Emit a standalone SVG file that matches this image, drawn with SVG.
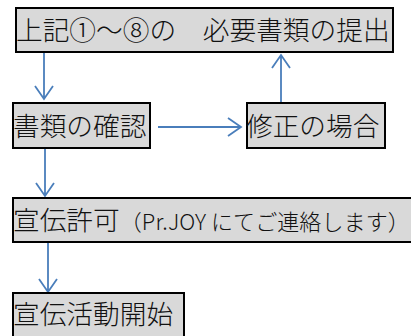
<svg xmlns="http://www.w3.org/2000/svg" width="411" height="336" viewBox="0 0 411 336">
<style>
.box{fill:#d9d9d9;stroke:#000;stroke-width:2}
.t{font-family:"Noto Sans CJK JP","Noto Sans",sans-serif;font-size:26.7px;font-weight:300;fill:#111}
.s{font-size:22px}
.c{stroke:#4a7ebb;stroke-width:1.8;fill:none}
</style>
<rect width="411" height="336" fill="#fff"/>
<g id="connectors">
<path class="c" d="M44,53 V99 M35,86 L44,99 L53,86"/>
<path class="c" d="M281,102 V55 M272,68 L281,55 L290,68"/>
<path class="c" d="M158,127 H241 M228,118 L241,127 L228,136"/>
<path class="c" d="M45,149 V196 M36,183 L45,196 L54,183"/>
<path class="c" d="M48,243 V292 M39,279 L48,292 L57,279"/>
</g>
<g id="n1"><rect class="box" x="16" y="8" width="377" height="44"/><text class="t" x="16" y="40">上記①～⑧の　必要書類の提出</text></g>
<g id="n2"><rect class="box" x="13" y="103" width="137" height="45"/><text class="t" x="13" y="135.5">書類の確認</text></g>
<g id="n3"><rect class="box" x="247" y="103" width="138" height="45"/><text class="t" x="246" y="135.5">修正の場合</text></g>
<g id="n4"><rect class="box" x="13" y="198" width="402" height="44"/><text class="t" x="13" y="230">宣伝許可<tspan class="s" textLength="290" lengthAdjust="spacing">（Pr.JOY にてご連絡します）</tspan></text></g>
<g id="n5"><rect class="box" x="13" y="293" width="171" height="50"/><text class="t" x="13" y="323.5">宣伝活動開始</text></g>
</svg>
